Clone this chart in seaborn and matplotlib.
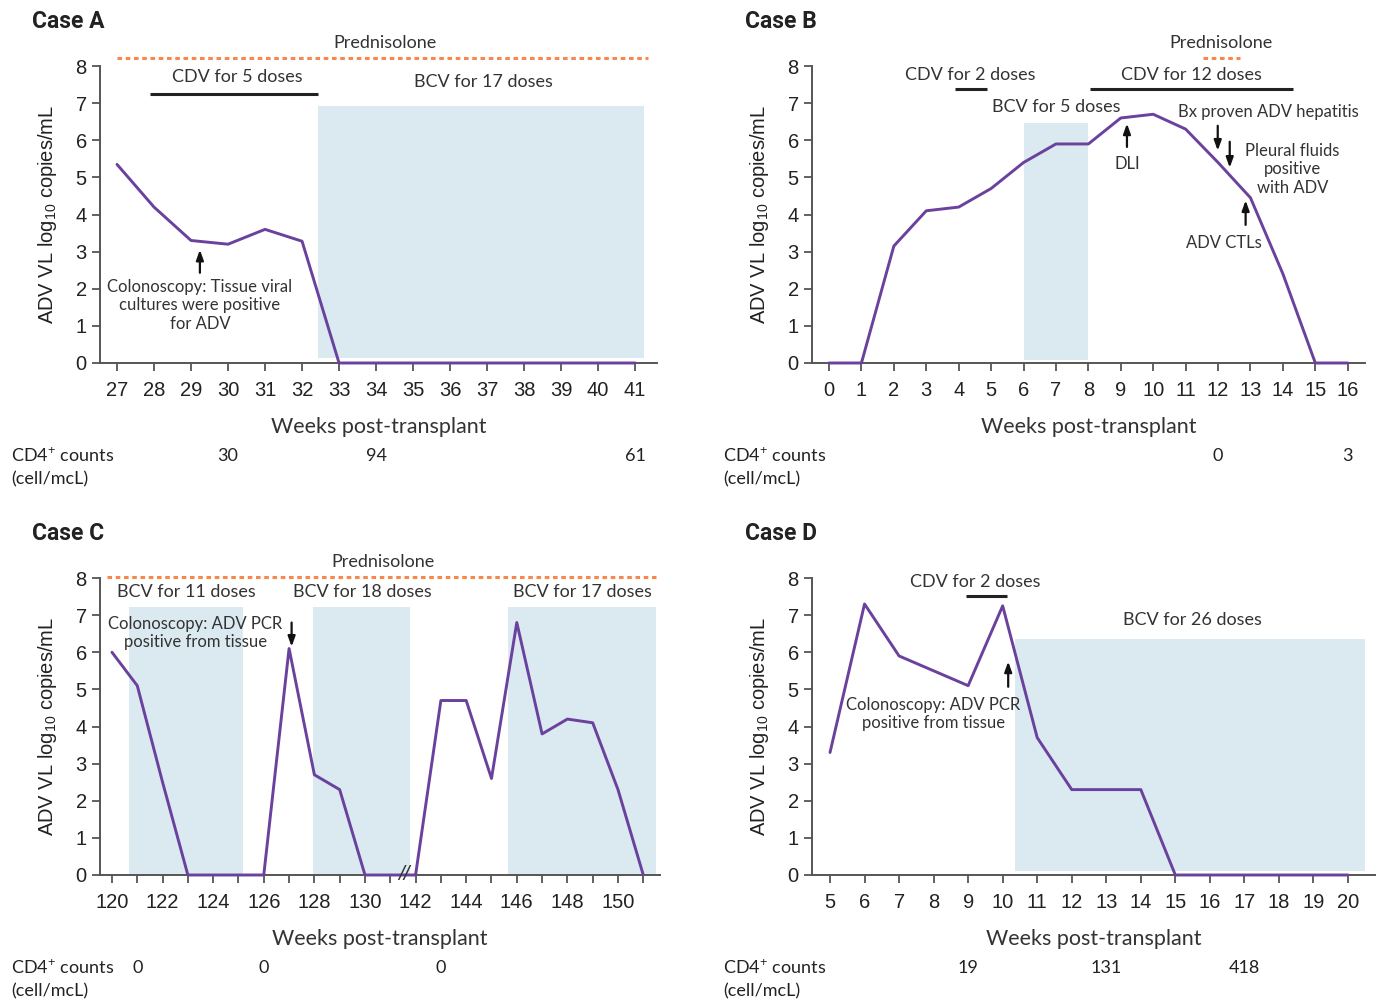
import matplotlib
matplotlib.use("Agg")
import matplotlib.pyplot as plt
import seaborn as sns
import pandas as pd
from matplotlib.patches import Rectangle
from matplotlib.transforms import blended_transform_factory

sns.set_theme(style="white")
plt.rcParams['font.family'] = ['Liberation Sans', 'DejaVu Sans']
plt.rcParams['mathtext.fontset'] = 'custom'
plt.rcParams['mathtext.rm'] = 'Liberation Sans'

# ---------------- data ----------------
weeks_a = list(range(27, 42))
vl_a = [5.35, 4.2, 3.3, 3.2, 3.6, 3.28, 0, 0, 0, 0, 0, 0, 0, 0, 0]
cd4_weeks_a = [30, 34, 41]
cd4_a = [30, 94, 61]

weeks_b = list(range(0, 17))
vl_b = [0, 0, 3.15, 4.1, 4.2, 4.7, 5.4, 5.9, 5.9, 6.6, 6.7, 6.3, 5.4, 4.45, 2.4, 0, 0]
cd4_weeks_b = [12, 16]
cd4_b = [0, 3]

weeks_c = [120, 121, 122, 123, 124, 125, 126, 127, 128, 129, 130, 131,
           142, 143, 144, 145, 146, 147, 148, 149, 150, 151]
vl_c = [6.0, 5.1, 2.5, 0, 0, 0, 0, 6.1, 2.7, 2.3, 0, 0,
        0, 4.7, 4.7, 2.6, 6.8, 3.8, 4.2, 4.1, 2.3, 0]
cd4_weeks_c = [121, 126, 143]
cd4_c = [0, 0, 0]

weeks_d = list(range(5, 21))
vl_d = [3.3, 7.3, 5.9, 5.5, 5.1, 7.25, 3.7, 2.3, 2.3, 2.3, 0, 0, 0, 0, 0, 0]
cd4_weeks_d = [9, 13, 17]
cd4_d = [19, 131, 418]

# treatment periods (weeks)
bcv_a = [(32.43, 41.24, 0.13, 6.93)]
cdv_a = [(27.89, 32.43, 7.25)]
pred_a = (27.0, 41.35, 8.22)

bcv_b = [(6.0, 8.0, 0.08, 6.47)]
cdv_b = [(3.88, 4.87, 7.38), (8.05, 14.3, 7.38)]
pred_b = (11.53, 12.67, 8.22)

bcv_c = [(120.67, 125.18, 0.0, 7.22), (127.94, 131.78, 0.0, 7.22), (145.65, 151.5, 0.0, 7.22)]
pred_c = (119.8, 151.5, 8.03)

bcv_d = [(10.36, 20.48, 0.11, 6.36)]
cdv_d = [(8.94, 10.13, 7.52)]

# ---------------- style ----------------
PURPLE = "#6a419c"
SHADE = "#dbe9f1"
ORANGE = "#f5884a"
SPINE = "#555555"
TXT = "#222222"
ANN = ['Lato', 'DejaVu Sans']


def c_pos(w):
    # compressed axis for case C (break between 131 and 142)
    return w - 120 if w < 136 else w - 130


fig = plt.figure(figsize=(13.77, 10), dpi=100)
axA = fig.add_axes([0.0726, 0.637, 0.4045, 0.297])
axB = fig.add_axes([0.5897, 0.637, 0.4013, 0.297])
axC = fig.add_axes([0.0726, 0.125, 0.4067, 0.297])
axD = fig.add_axes([0.5897, 0.125, 0.4088, 0.297])


def style(ax):
    for s in ["top", "right"]:
        ax.spines[s].set_visible(False)
    for s in ["left", "bottom"]:
        ax.spines[s].set_color(SPINE)
        ax.spines[s].set_linewidth(1.4)
    ax.set_ylim(0, 8)
    ax.set_yticks(range(0, 9))
    ax.tick_params(axis="both", direction="out", length=6, width=1.3, color=SPINE,
                   labelsize=14.5, labelcolor=TXT, left=True, bottom=True)
    ax.tick_params(axis="x", pad=7)
    ax.set_ylabel("ADV VL log$_{10}$ copies/mL", fontsize=14.5, color=TXT, labelpad=12)
    ax.set_xlabel("Weeks post-transplant", fontsize=15.5, color="#333333", labelpad=12,
                  family=ANN)
    ax.grid(False)


def shade(ax, spans, fx=lambda v: v):
    for x0, x1, y0, y1 in spans:
        ax.add_patch(Rectangle((fx(x0), y0), fx(x1) - fx(x0), y1 - y0,
                               facecolor=SHADE, edgecolor="none", zorder=0))


def bars(ax, spans):
    for x0, x1, y in spans:
        ax.plot([x0, x1], [y, y], color="#222222", lw=2.2, clip_on=False, solid_capstyle="butt")


def pred(ax, span, fx=lambda v: v):
    x0, x1, y = span
    ax.plot([fx(x0), fx(x1)], [y, y], color=ORANGE, lw=2.2, ls=(0, (1.5, 1.2)), clip_on=False)


def ann(ax, x, y, s, size=12.5, **kw):
    ax.text(x, y, s, fontsize=size, color="#333333", ha="center", va="center",
            family=ANN, clip_on=False, linespacing=1.18, **kw)


def arrow(ax, x, y0, y1):
    ax.annotate("", xy=(x, y1), xytext=(x, y0),
                arrowprops=dict(arrowstyle="-|>,head_length=0.5,head_width=0.18",
                                color="#111111", lw=1.6, shrinkA=0, shrinkB=0),
                annotation_clip=False)


def cd4(ax, weeks, vals, yfig, fx=lambda v: v):
    tr = blended_transform_factory(ax.transData, fig.transFigure)
    for w, v in zip(weeks, vals):
        ax.text(fx(w), yfig, str(v), transform=tr, fontsize=13, color=TXT,
                ha="center", va="center", family=ANN)


def line(ax, x, y):
    df = pd.DataFrame({"week": x, "vl": y})
    sns.lineplot(data=df, x="week", y="vl", ax=ax, color=PURPLE, lw=2.1,
                 clip_on=False, zorder=3, estimator=None, sort=False)


# ---------------- Case A ----------------
line(axA, weeks_a, vl_a)
shade(axA, bcv_a)
bars(axA, cdv_a)
pred(axA, pred_a)
axA.set_xlim(26.54, 41.59)
axA.set_xticks(weeks_a)
style(axA)
ann(axA, 34.25, 8.62, "Prednisolone", 13)
ann(axA, 30.25, 7.7, "CDV for 5 doses", 13)
ann(axA, 36.9, 7.57, "BCV for 17 doses", 13)
arrow(axA, 29.24, 2.43, 3.05)
ann(axA, 29.24, 1.55, "Colonoscopy: Tissue viral\ncultures were positive\nfor ADV", 12)
cd4(axA, cd4_weeks_a, cd4_a, 0.544)

# ---------------- Case B ----------------
line(axB, weeks_b, vl_b)
shade(axB, bcv_b)
bars(axB, cdv_b)
pred(axB, pred_b)
axB.set_xlim(-0.524, 16.52)
axB.set_xticks(weeks_b)
style(axB)
ann(axB, 12.1, 8.62, "Prednisolone", 13)
ann(axB, 4.35, 7.75, "CDV for 2 doses", 13)
ann(axB, 11.17, 7.75, "CDV for 12 doses", 13)
ann(axB, 7.0, 6.9, "BCV for 5 doses", 13)
arrow(axB, 9.19, 5.82, 6.45)
ann(axB, 9.19, 5.36, "DLI", 12)
ann(axB, 13.55, 6.77, "Bx proven ADV hepatitis", 12)
arrow(axB, 11.99, 6.39, 5.72)
arrow(axB, 12.36, 5.96, 5.26)
ann(axB, 14.3, 5.22, "Pleural fluids\npositive\nwith ADV", 12)
arrow(axB, 12.85, 3.72, 4.38)
ann(axB, 12.19, 3.23, "ADV CTLs", 12)
cd4(axB, cd4_weeks_b, cd4_b, 0.544)

# ---------------- Case C ----------------
pos_c = [c_pos(w) for w in weeks_c]
line(axC, pos_c, vl_c)
shade(axC, bcv_c, c_pos)
pred(axC, pred_c, c_pos)
axC.set_xlim(-0.474, 21.66)
axC.set_xticks(range(0, 22))
axC.set_xticklabels([lab if i % 2 == 0 else "" for i, lab in
                     enumerate([str(w) for w in weeks_c])])
style(axC)
axC.text(11.55, 0.02, "//", fontsize=15, color="#333333", ha="center", va="center",
         clip_on=False, zorder=4, style="italic")
ann(axC, 10.7, 8.42, "Prednisolone", 13)
ann(axC, 2.95, 7.62, "BCV for 11 doses", 13)
ann(axC, 9.9, 7.62, "BCV for 18 doses", 13)
ann(axC, 18.6, 7.62, "BCV for 17 doses", 13)
ann(axC, 3.3, 6.52, "Colonoscopy: ADV PCR\npositive from tissue", 12)
arrow(axC, 7.1, 6.8, 6.15)
cd4(axC, cd4_weeks_c, cd4_c, 0.032, c_pos)

# ---------------- Case D ----------------
line(axD, weeks_d, vl_d)
shade(axD, bcv_d)
bars(axD, cdv_d)
axD.set_xlim(4.479, 20.78)
axD.set_xticks(weeks_d)
style(axD)
ann(axD, 9.2, 7.9, "CDV for 2 doses", 13)
ann(axD, 15.5, 6.87, "BCV for 26 doses", 13)
arrow(axD, 10.16, 5.07, 5.75)
ann(axD, 8.0, 4.33, "Colonoscopy: ADV PCR\npositive from tissue", 12)
cd4(axD, cd4_weeks_d, cd4_d, 0.032)

# ---------------- panel titles & CD4 labels ----------------
for x, y, t in [(0.023, 0.979, "Case A"), (0.541, 0.979, "Case B"),
                (0.023, 0.467, "Case C"), (0.541, 0.467, "Case D")]:
    fig.text(x, y, t, fontsize=16.5, fontweight="bold", color="#222222", va="center",
             family=['Roboto', 'DejaVu Sans'])

for x, y in [(0.008, 0.544), (0.525, 0.544), (0.008, 0.032), (0.525, 0.032)]:
    fig.text(x, y, "CD4$^{+}$ counts", fontsize=13, color=TXT, va="center", family=ANN)
    fig.text(x, y - 0.023, "(cell/mcL)", fontsize=13, color=TXT, va="center", family=ANN)

fig.savefig("out.png", dpi=100)
